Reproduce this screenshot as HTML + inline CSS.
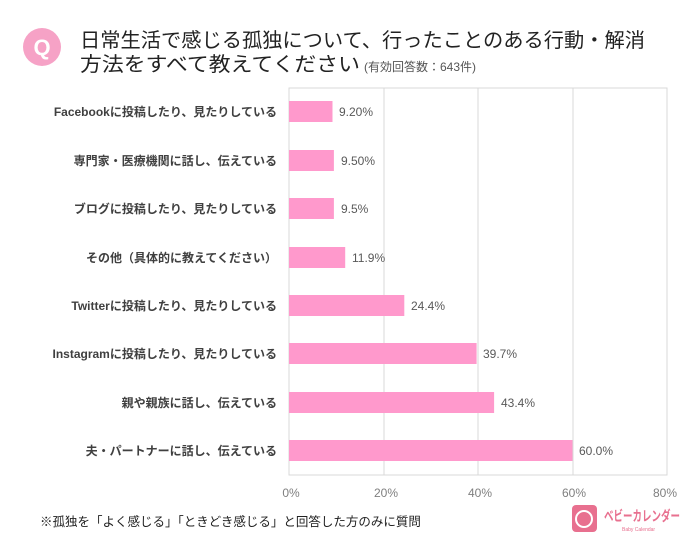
<!DOCTYPE html>
<html><head><meta charset="utf-8"><style>
body{margin:0;background:#fff;width:700px;height:547px;overflow:hidden;font-family:"Liberation Sans","Noto Sans CJK JP",sans-serif;}
</style></head><body>
<svg width="700" height="547" xmlns="http://www.w3.org/2000/svg" font-family="Liberation Sans, Noto Sans CJK JP, sans-serif">
<circle cx="42" cy="47" r="19" fill="#f6a2c6"/>
<text x="42" y="55" text-anchor="middle" font-size="22" font-weight="bold" fill="#fff">Q</text>
<text x="80" y="47" font-size="20" fill="#222" textLength="565" lengthAdjust="spacingAndGlyphs">日常生活で感じる孤独について、行ったことのある行動・解消</text>
<text x="80" y="71" font-size="20" fill="#222"><tspan textLength="280" lengthAdjust="spacingAndGlyphs">方法をすべて教えてください</tspan><tspan font-size="12" fill="#555" dx="4">(有効回答数：643件)</tspan></text>
<rect x="289" y="88" width="378" height="387" fill="none" stroke="#d9d9d9"/>
<g stroke="#d9d9d9"><line x1="384" y1="88" x2="384" y2="475"/><line x1="478" y1="88" x2="478" y2="475"/><line x1="573" y1="88" x2="573" y2="475"/></g>
<g fill="#ff99cc">
<rect x="289" y="101" width="43.5" height="21"/>
<rect x="289" y="150" width="44.9" height="21"/>
<rect x="289" y="198" width="44.9" height="21"/>
<rect x="289" y="247" width="56.2" height="21"/>
<rect x="289" y="295" width="115.3" height="21"/>
<rect x="289" y="343" width="187.6" height="21"/>
<rect x="289" y="392" width="205.1" height="21"/>
<rect x="289" y="440" width="283.5" height="21"/>
</g>
<g font-size="12" fill="#595959">
<text x="339" y="116">9.20%</text>
<text x="341" y="165">9.50%</text>
<text x="341" y="213">9.5%</text>
<text x="352" y="262">11.9%</text>
<text x="411" y="310">24.4%</text>
<text x="483" y="358">39.7%</text>
<text x="501" y="407">43.4%</text>
<text x="579" y="455">60.0%</text>
</g>
<g font-size="12" font-weight="bold" fill="#404040" text-anchor="end">
<text x="277" y="116">Facebookに投稿したり、見たりしている</text>
<text x="277" y="165">専門家・医療機関に話し、伝えている</text>
<text x="277" y="213">ブログに投稿したり、見たりしている</text>
<text x="277" y="262">その他（具体的に教えてください）</text>
<text x="277" y="310">Twitterに投稿したり、見たりしている</text>
<text x="277" y="358">Instagramに投稿したり、見たりしている</text>
<text x="277" y="407">親や親族に話し、伝えている</text>
<text x="277" y="455">夫・パートナーに話し、伝えている</text>
</g>
<g font-size="12" fill="#7f7f7f" text-anchor="middle">
<text x="291" y="497">0%</text><text x="386" y="497">20%</text><text x="480" y="497">40%</text><text x="574" y="497">60%</text><text x="665" y="497">80%</text>
</g>
<text x="40" y="526" font-size="12.5" fill="#222">※孤独を「よく感じる」「ときどき感じる」と回答した方のみに質問</text>
<rect x="572" y="505" width="25" height="27" rx="4" fill="#e8708f"/>
<circle cx="584" cy="519" r="8" fill="none" stroke="#fff" stroke-width="2"/>
<text x="604" y="521" font-size="14" fill="#e8708f" font-weight="bold" textLength="76" lengthAdjust="spacingAndGlyphs">ベビーカレンダー</text>
<text x="622" y="531" font-size="5" fill="#e8708f">Baby Calendar</text>
</svg>
</body></html>
